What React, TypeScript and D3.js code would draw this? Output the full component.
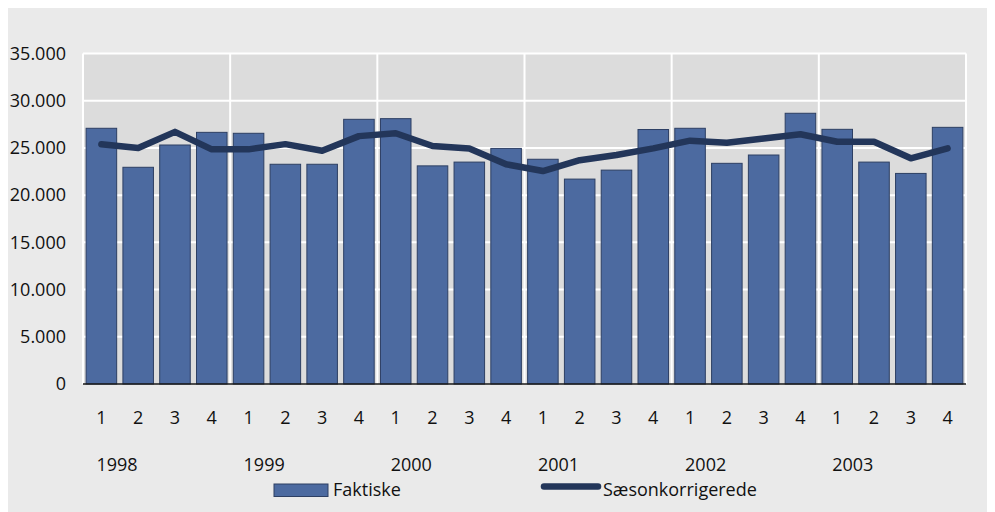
import React from 'react';
import * as d3 from 'd3';

// quarterly values, 1998-2003
const years = ['1998', '1999', '2000', '2001', '2002', '2003'];
const quarters = ['1', '2', '3', '4'];
const faktiske = [
    27080, 22950, 25310, 26650,
    26550, 23270, 23270, 28030,
    28100, 23100, 23500, 24950,
    23800, 21700, 22650, 26950,
    27080, 23370, 24250, 28670,
    26970, 23500, 22300, 27180,
];
const saesonkorrigerede = [
    25400, 25000, 26700, 24850,
    24850, 25400, 24700, 26250,
    26550, 25200, 24950, 23270,
    22550, 23700, 24250, 24950,
    25770, 25550, 26000, 26450,
    25660, 25660, 23900, 24950,
];
const yTicks = [0, 5000, 10000, 15000, 20000, 25000, 30000, 35000];

const W = 984;
const H = 504;
const FONT = '"Open Sans", sans-serif';
const FS = 18;

const locale = d3.formatLocale({ decimal: ',', thousands: '.', grouping: [3], currency: ['', ''] });
const fmt = locale.format(',');

const App = () => {
    const idx = faktiske.map((d, i) => i);
    const x = d3.scaleBand<number>()
        .domain(idx)
        .range([75, 958])
        .paddingInner(0.17)
        .paddingOuter(0.085);
    const y = d3.scaleLinear().domain([0, 35000]).range([376, 45.5]);
    const step = x.step();
    const lineGen = d3.line<number>()
        .x((d, i) => (x(i) as number) + x.bandwidth() / 2)
        .y(d => y(d));

    const left = 75;
    const right = 958;

    return (
        <svg width={W} height={H} style={{ display: 'block' }}>
            <rect x={0} y={0} width={W} height={H} fill="#eaeaea" />
            {/* plot area */}
            <rect x={left} y={y(35000)} width={right - left} height={y(0) - y(35000)} fill="#dcdcdc" />
            <g>
                {yTicks.filter(t => t > 0).map(t => (
                    <line key={t} x1={left} x2={right} y1={y(t)} y2={y(t)} stroke="#fff" strokeWidth={2} />
                ))}
                {years.map((yr, k) => {
                    const xx = left + k * 4 * step;
                    return <line key={yr} x1={xx} x2={xx} y1={y(35000)} y2={y(0)} stroke="#fff" strokeWidth={2} />;
                })}
                <line x1={right} x2={right} y1={y(35000)} y2={y(0)} stroke="#fff" strokeWidth={2} />
            </g>
            <g>
                {faktiske.map((d, i) => (
                    <rect
                        key={i}
                        x={x(i)}
                        y={y(d)}
                        width={x.bandwidth()}
                        height={y(0) - y(d)}
                        fill="#4c6aa0"
                        stroke="#2d3f63"
                        strokeWidth={1}
                    />
                ))}
            </g>
            <line x1={left} x2={right} y1={y(0)} y2={y(0)} stroke="#1a1a1a" strokeWidth={1.5} />
            <path
                d={lineGen(saesonkorrigerede) || ''}
                fill="none"
                stroke="#23365a"
                strokeWidth={6.5}
                strokeLinejoin="round"
                strokeLinecap="round"
            />
            {/* y axis labels */}
            <g fontFamily={FONT} fontSize={FS} fill="#111">
                {yTicks.map(t => (
                    <text key={t} x={58} y={y(t)} dy="0.35em" textAnchor="end">{fmt(t)}</text>
                ))}
            </g>
            {/* x axis labels */}
            <g fontFamily={FONT} fontSize={FS} fill="#111">
                {idx.map(i => (
                    <text key={i} x={(x(i) as number) + x.bandwidth() / 2} y={410} dy="0.35em" textAnchor="middle">
                        {quarters[i % 4]}
                    </text>
                ))}
                {years.map((yr, k) => (
                    <text key={yr} x={(x(k * 4) as number) + x.bandwidth() / 2 - 5} y={457} dy="0.35em" textAnchor="start">
                        {yr}
                    </text>
                ))}
            </g>
            {/* legend */}
            <g fontFamily={FONT} fontSize={FS} fill="#111">
                <rect x={266} y={476} width={54} height={12.5} fill="#4c6aa0" stroke="#2d3f63" strokeWidth={1} />
                <text x={325} y={482} dy="0.35em">Faktiske</text>
                <line x1={536} x2={590} y1={478.5} y2={478.5} stroke="#23365a" strokeWidth={6.5} strokeLinecap="round" />
                <text x={595} y={482} dy="0.35em">Sæsonkorrigerede</text>
            </g>
        </svg>
    );
};

export default App;
